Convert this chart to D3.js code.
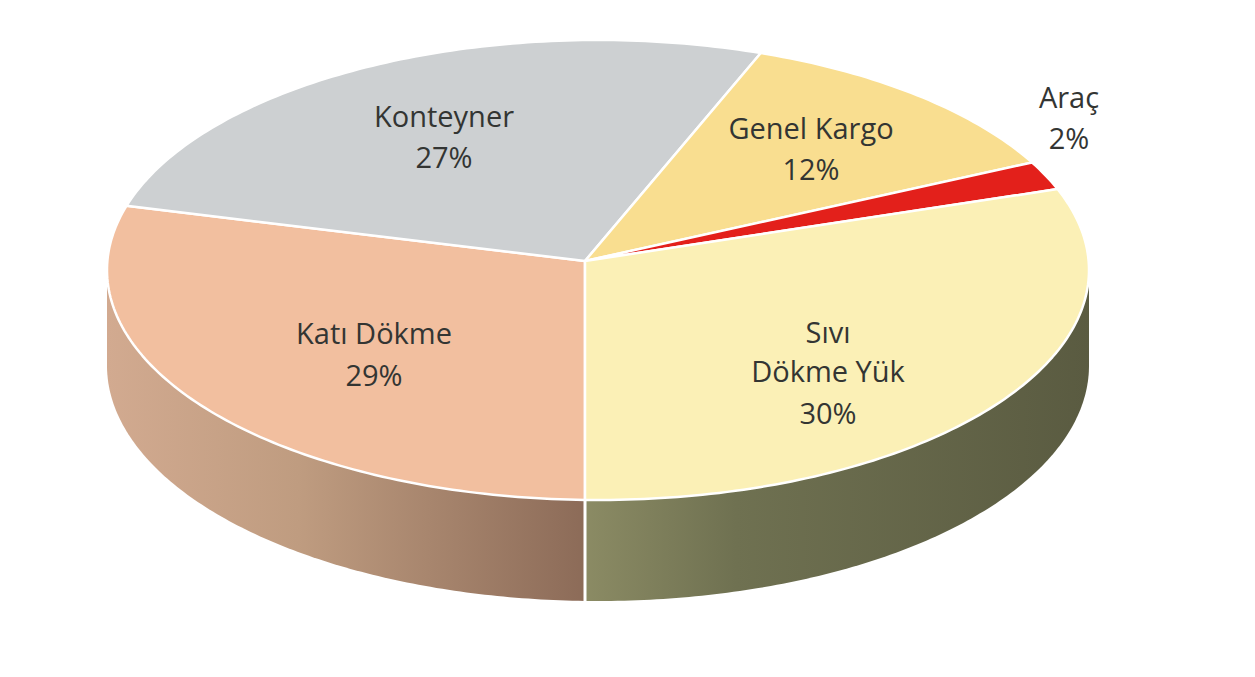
<!doctype html>
<html>
  <head>
    <meta charset="utf-8">
    <title>Pie</title>
    <script src="https://cdn.jsdelivr.net/npm/d3@7"></script>
    <style>
      html, body { margin: 0; padding: 0; background: #fff; }
      svg { display: block; }
      text { font-family: "Open Sans", sans-serif; font-size: 29px; fill: #333533; text-anchor: middle; }
    </style>
  </head>
  <body>
    <script>
      const categories = ['Katı Dökme', 'Konteyner', 'Genel Kargo', 'Araç', 'Sıvı Dökme Yük'];
      const values = [29, 27, 12, 2, 30];
      const colors = ['#f2bf9f', '#cdd0d2', '#f9de90', '#e3201b', '#fbf0b6'];

      const svgWidth = 1255;
      const svgHeight = 677;

      const svg = d3.select('body').append('svg')
          .attr('width', svgWidth)
          .attr('height', svgHeight);

      // top face: unit disc mapped on to the ellipse
      const x = d3.scaleLinear().domain([-1, 1]).range([107, 1089]);
      const y = d3.scaleLinear().domain([-1, 1]).range([40, 500]);
      // bottom rim of the wall
      const yLow = d3.scaleLinear().domain([-1, 1]).range([130, 601]);

      // the slices meet off centre, like a perspective view
      const apex = [x.invert(585), y.invert(261)];

      // where the ray from the apex at angle a meets the rim
      const rim = a => {
        const dx = Math.sin(a), dy = -Math.cos(a);
        const b = apex[0] * dx + apex[1] * dy;
        const c = apex[0] * apex[0] + apex[1] * apex[1] - 1;
        const t = -b + Math.sqrt(b * b - c);
        return [apex[0] + t * dx, apex[1] + t * dy];
      };

      const line = d3.line().x(d => x(d[0])).y(d => y(d[1]));

      const pie = d3.pie().sort(null).startAngle(Math.PI).endAngle(3 * Math.PI);
      const arcs = pie(values);

      const defs = svg.append('defs');
      const addGradient = (id, x1, x2, stops) => {
        const g = defs.append('linearGradient')
            .attr('id', id)
            .attr('gradientUnits', 'userSpaceOnUse')
            .attr('x1', x1).attr('x2', x2)
            .attr('y1', 0).attr('y2', 0);
        stops.forEach(s => g.append('stop').attr('offset', s[0]).attr('stop-color', s[1]));
      };
      addGradient('wallLeft', 107, 585, [[0, '#d2aa90'], [0.4, '#bf9c80'], [1, '#8c6b58']]);
      addGradient('wallRight', 585, 1089, [[0, '#8b8b64'], [0.3, '#6f7151'], [1, '#5a5b41']]);

      // wall, split at the front seam
      const wall = (from, to) => {
        const n = 120;
        const pts = d3.range(n + 1).map(i => {
          const t = from + (to - from) * i / n;
          return [x(Math.cos(t)), yLow(Math.sin(t))];
        });
        const a = pts[0], b = pts[n];
        return 'M' + a[0] + ',' + y(0) + 'L' + pts.map(p => p.join(',')).join('L') + 'L' + b[0] + ',' + y(0) + 'Z';
      };
      const seam = Math.acos(x.invert(585));
      svg.append('path').attr('d', wall(Math.PI, seam)).attr('fill', 'url(#wallLeft)');
      svg.append('path').attr('d', wall(seam, 0)).attr('fill', 'url(#wallRight)');

      svg.append('line')
          .attr('x1', 585).attr('x2', 585)
          .attr('y1', y(0)).attr('y2', yLow(1) + 2)
          .attr('stroke', '#fff').attr('stroke-width', 3);

      // top face
      svg.append('g')
        .selectAll('path')
        .data(arcs)
        .enter().append('path')
          .attr('d', d => {
            const n = Math.ceil((d.endAngle - d.startAngle) * 60);
            const pts = d3.range(n + 1).map(i => rim(d.startAngle + (d.endAngle - d.startAngle) * i / n));
            return line([apex, ...pts]) + 'Z';
          })
          .attr('fill', (d, i) => colors[i])
          .attr('stroke', '#fff')
          .attr('stroke-width', 2.5)
          .attr('stroke-linejoin', 'round');

      // labels
      const labels = [
        { lines: ['Katı Dökme', '29%'], x: 374, y: [344, 386] },
        { lines: ['Konteyner', '27%'], x: 444, y: [127, 168] },
        { lines: ['Genel Kargo', '12%'], x: 811, y: [139, 180] },
        { lines: ['Araç', '2%'], x: 1069, y: [108, 149] },
        { lines: ['Sıvı', 'Dökme Yük', '30%'], x: 828, y: [343, 382, 424] }
      ];
      labels.forEach(l => {
        l.lines.forEach((s, i) => {
          svg.append('text').attr('x', l.x).attr('y', l.y[i]).text(s);
        });
      });
    </script>
  </body>
</html>
